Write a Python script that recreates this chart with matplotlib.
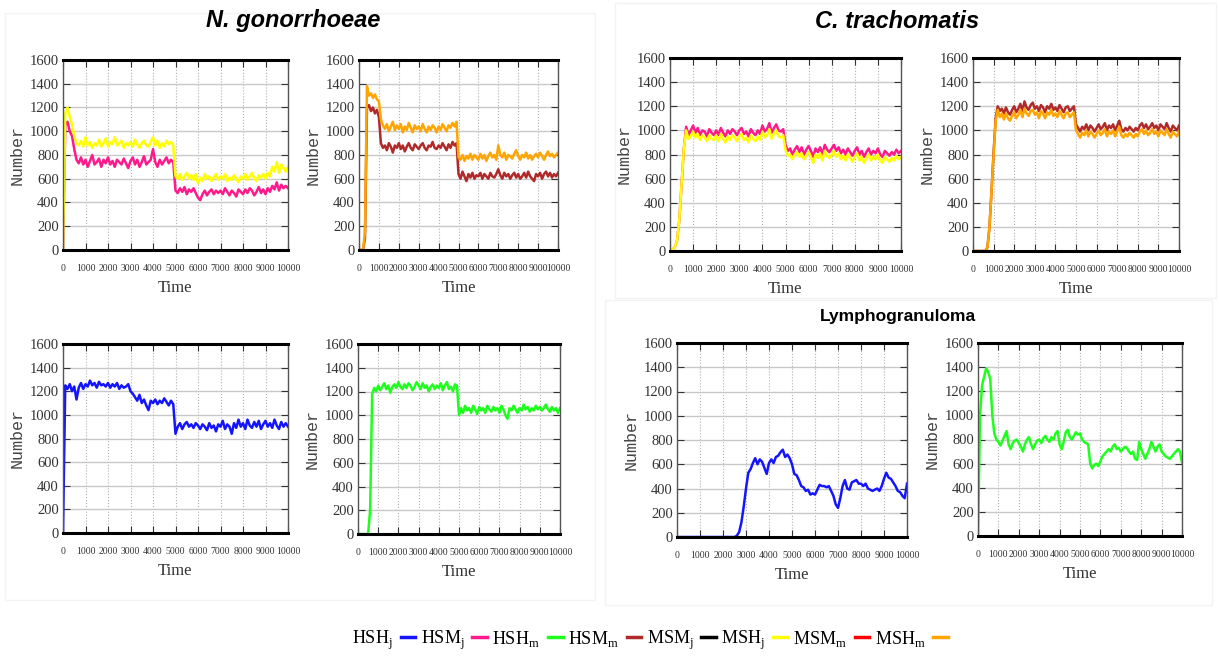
import numpy as np
import matplotlib
matplotlib.use("Agg")
import matplotlib.pyplot as plt
from matplotlib.lines import Line2D
from matplotlib.patches import Rectangle

plt.rcParams['font.family'] = ['Liberation Serif', 'DejaVu Serif']

# time axis of the simulations (one reading every 100 time units)
time = np.arange(0, 10001, 100)

# ---- N. gonorrhoeae ----
ng_hsm_j = [0, 1050, 1080, 1000, 960, 850, 760, 730, 780, 720,
            760, 700, 750, 800, 720, 740, 770, 700, 760, 730,
            780, 720, 750, 700, 760, 740, 720, 770, 730, 690,
            750, 780, 720, 760, 700, 740, 790, 720, 740, 760,
            850, 740, 700, 760, 720, 750, 780, 730, 760, 740,
            500, 480, 520, 490, 530, 470, 510, 490, 520, 480,
            440, 420, 470, 500, 460, 490, 510, 470, 500, 480,
            500, 470, 520, 490, 460, 500, 480, 450, 510, 490,
            470, 510, 480, 520, 500, 460, 490, 530, 480, 510,
            470, 520, 490, 540, 510, 570, 500, 550, 520, 540,
            520]
ng_msh_j = [0, 1150, 1200, 1120, 1060, 960, 900, 880, 920, 870,
            950, 880, 910, 860, 900, 880, 930, 870, 900, 940,
            870, 910, 890, 950, 880, 900, 920, 860, 900, 880,
            910, 870, 930, 890, 860, 900, 920, 880, 870, 910,
            950, 880, 920, 860, 900, 870, 920, 890, 910, 880,
            620, 600, 640, 590, 620, 650, 600, 630, 590, 640,
            560, 610, 580, 640, 600, 620, 580, 610, 640, 590,
            620, 600, 640, 580, 610, 590, 630, 600, 570, 620,
            600, 640, 590, 620, 650, 600, 580, 630, 610, 640,
            600, 650, 620, 700, 660, 740, 650, 720, 690, 660,
            700]
ng_hsm_m = [0, 0, 0, 100, 1200, 1220, 1170, 1200, 1150, 1180,
            1120, 900, 860, 880, 840, 900, 870, 820, 880, 860,
            900, 850, 880, 830, 870, 900, 860, 840, 890, 870,
            850, 880, 900, 860, 840, 880, 870, 910, 860, 850,
            880, 860, 900, 870, 840, 890, 860, 910, 880, 900,
            640, 600, 660, 620, 580, 640, 610, 650, 600, 630,
            620, 650, 600, 640, 620, 600, 650, 620, 610, 640,
            680, 630, 600, 650, 620, 640, 600, 630, 650, 610,
            640, 600, 620, 650, 610, 660, 620, 600, 580, 640,
            620, 650, 600, 640, 660, 620, 650, 610, 640, 620,
            650]
ng_msh_m = [0, 0, 0, 150, 1380, 1300, 1320, 1280, 1310, 1270,
            1250, 1100, 1050, 1020, 1060, 1000, 1040, 1080, 1010, 1050,
            1020, 1060, 990, 1040, 1010, 1070, 1030, 990, 1050, 1020,
            1040, 1000, 1060, 1020, 990, 1040, 1010, 1050, 1030, 990,
            1040, 1010, 1060, 1030, 1000, 1050, 1030, 1070, 1040, 1080,
            780, 760, 800, 750, 790, 770, 810, 760, 800, 780,
            760, 810, 770, 800, 750, 790, 820, 780, 800, 760,
            880, 800, 780, 820, 760, 800, 790, 770, 810, 840,
            790, 760, 800, 780, 820, 770, 800, 760, 790, 810,
            780, 820, 790, 760, 800, 830, 790, 810, 780, 800,
            820]
ng_hsh_j = [0, 1250, 1220, 1260, 1200, 1240, 1130, 1230, 1270, 1220,
            1260, 1240, 1290, 1250, 1270, 1230, 1280, 1250, 1260, 1240,
            1270, 1230, 1260, 1240, 1270, 1220, 1250, 1230, 1240, 1260,
            1200, 1180, 1150, 1120, 1170, 1100, 1130, 1080, 1040, 1120,
            1100, 1130, 1090, 1120, 1100, 1140, 1110, 1080, 1120, 1090,
            840, 900, 930, 880, 920, 940, 900, 920, 890, 930,
            910, 880, 920, 900, 870, 930, 890, 910, 860, 920,
            900, 950, 880, 920, 900, 840, 930, 890, 960, 900,
            930, 880, 960, 910, 890, 940, 900, 950, 880, 920,
            950, 900, 930, 890, 960, 910, 880, 940, 900, 930,
            900]
ng_hsh_m = [0, 0, 0, 0, 0, 0, 200, 1180, 1230, 1200,
            1250, 1210, 1240, 1270, 1220, 1250, 1190, 1240, 1260, 1230,
            1280, 1240, 1220, 1260, 1230, 1270, 1250, 1210, 1240, 1280,
            1250, 1220, 1270, 1230, 1250, 1200, 1240, 1260, 1220, 1250,
            1230, 1270, 1210, 1250, 1280, 1220, 1240, 1200, 1260, 1250,
            1000, 1060, 1020, 1080, 1040, 1060, 1020, 1080, 1050, 1010,
            1070, 1040, 1060, 1020, 1080, 1050, 1030, 1070, 1040, 1060,
            1020, 1080, 1050, 1000, 970, 1060, 1040, 1080, 1050, 1020,
            1060, 1040, 1090, 1050, 1070, 1030, 1060, 1040, 1080, 1050,
            1070, 1040, 1060, 1090, 1050, 1030, 1070, 1040, 1060, 1020,
            1060]

# ---- C. trachomatis ----
ct_hsm_j = [0, 10, 30, 80, 250, 550, 850, 1030, 960, 1000,
            1040, 980, 1020, 960, 1000, 990, 950, 1010, 980, 960,
            1000, 960, 1020, 980, 950, 1000, 970, 1010, 990, 960,
            1000, 1020, 970, 990, 950, 1010, 980, 960, 1000, 970,
            1040, 990, 1010, 1060, 980, 1020, 1050, 1000, 990, 1010,
            880, 830, 850, 800, 840, 870, 820, 860, 800, 840,
            870, 830, 780, 850, 820, 860, 800, 880, 840, 820,
            850, 880, 830, 860, 810, 840, 800, 850, 820, 790,
            830, 860, 800, 830, 780, 820, 850, 800, 830, 810,
            850, 800, 780, 830, 810, 790, 820, 800, 840, 810,
            830]
ct_msh_j = [0, 10, 30, 80, 250, 550, 850, 1000, 930, 950,
            990, 940, 970, 920, 960, 940, 910, 960, 930, 920,
            960, 910, 970, 930, 900, 950, 920, 960, 940, 910,
            950, 970, 920, 940, 900, 960, 930, 910, 950, 920,
            990, 940, 960, 1010, 930, 970, 1000, 950, 940, 960,
            840, 790, 800, 760, 800, 820, 780, 810, 760, 790,
            820, 780, 730, 800, 770, 810, 750, 830, 790, 770,
            800, 830, 780, 810, 760, 790, 750, 800, 770, 740,
            780, 810, 750, 780, 730, 770, 800, 750, 780, 760,
            800, 750, 730, 780, 760, 740, 770, 750, 790, 760,
            780]
ct_hsm_m = [0, 0, 0, 0, 0, 0, 0, 30, 200, 500,
            820, 1100, 1200, 1160, 1180, 1140, 1190, 1150, 1130, 1170,
            1200, 1150, 1180, 1220, 1160, 1240, 1190, 1170, 1210, 1230,
            1180, 1200, 1160, 1210, 1190, 1150, 1200, 1180, 1220, 1170,
            1190, 1160, 1210, 1180, 1150, 1190, 1200, 1160, 1180, 1200,
            1050, 1020, 990, 1030, 1010, 1050, 1000, 1040, 1020, 990,
            1020, 1050, 1010, 1030, 1060, 1000, 1040, 1020, 1050, 1000,
            1040, 1080, 1010, 990, 1020, 1000, 1030, 1010, 990, 1020,
            1000, 1040, 1060, 1020, 1050, 1010, 1030, 1060, 1020, 1040,
            1000, 1050, 1030, 1010, 1060, 1020, 990, 1040, 1020, 1000,
            1040]
ct_msh_m = [0, 0, 0, 0, 0, 0, 0, 30, 200, 500,
            800, 1080, 1170, 1110, 1140, 1090, 1140, 1100, 1080, 1120,
            1150, 1100, 1130, 1170, 1110, 1180, 1140, 1120, 1160, 1170,
            1130, 1150, 1100, 1160, 1140, 1100, 1150, 1130, 1170, 1120,
            1140, 1110, 1160, 1130, 1100, 1140, 1150, 1110, 1130, 1150,
            1000, 970, 940, 980, 960, 1000, 950, 990, 970, 940,
            970, 1000, 960, 980, 1010, 950, 990, 970, 1000, 950,
            990, 1030, 960, 940, 970, 950, 980, 960, 940, 970,
            950, 990, 1010, 970, 1000, 960, 980, 1010, 970, 990,
            950, 1000, 980, 960, 1010, 970, 940, 990, 970, 950,
            990]

# ---- Lymphogranuloma ----
lgv_hsh_j = [0, 0, 0, 0, 0, 0, 0, 0, 0, 0,
             0, 0, 0, 0, 0, 0, 0, 0, 0, 0,
             0, 0, 0, 0, 0, 0, 10, 40, 120, 250,
             400, 530, 560, 610, 650, 600, 640, 620, 570, 520,
             610, 640, 610, 660, 670, 700, 720, 660, 680, 650,
             600, 520, 510, 470, 420, 410, 380, 390, 350, 360,
             350, 390, 430, 420, 420, 410, 420, 380, 340, 270,
             240, 320, 420, 470, 400, 390, 450, 460, 470, 440,
             440, 420, 440, 400, 390, 380, 390, 400, 380, 420,
             480, 530, 490, 480, 450, 420, 380, 370, 340, 320,
             440]
lgv_hsh_m = [0, 1000, 1250, 1320, 1390, 1360, 1300, 1000, 850, 800,
             780, 750, 790, 830, 870, 760, 720, 770, 790, 800,
             770, 740, 700, 760, 800, 820, 760, 720, 760, 790,
             800, 770, 810, 830, 800, 780, 820, 800, 850, 870,
             760, 720, 780, 860, 880, 820, 800, 830, 860, 840,
             850, 800, 780, 770, 760, 600, 560, 590, 600, 580,
             620, 660, 680, 700, 720, 700, 740, 760, 720, 730,
             700, 720, 740, 730, 700, 680, 700, 640, 630, 780,
             720, 680, 640, 680, 720, 780, 740, 700, 740, 760,
             700, 680, 660, 650, 640, 660, 680, 700, 720, 700,
             610]

legend_names = ['HSH$_\\mathregular{j}$', 'HSM$_\\mathregular{j}$',
                'HSH$_\\mathregular{m}$', 'HSM$_\\mathregular{m}$',
                'MSM$_\\mathregular{j}$', 'MSH$_\\mathregular{j}$',
                'MSM$_\\mathregular{m}$', 'MSH$_\\mathregular{m}$']
legend_colors = ['#1414ff', '#ff1a8c', '#1eff1e', '#b02a2a',
                 '#000000', '#ffff00', '#ff0000', '#ffa500']
col = dict(zip(['HSH_j', 'HSM_j', 'HSH_m', 'HSM_m', 'MSM_j', 'MSH_j', 'MSM_m', 'MSH_m'],
               legend_colors))

W, H = 1219, 671
fig = plt.figure(figsize=(W / 100, H / 100), dpi=100)


def box(x0, y0, x1, y1):
    # pixel box (from top-left) -> figure fraction
    return [x0 / W, 1 - y1 / H, (x1 - x0) / W, (y1 - y0) / H]


def style(ax):
    ax.set_xlim(0, 10000)
    ax.set_ylim(0, 1600)
    ax.set_xticks(range(0, 10001, 1000))
    ax.set_yticks(range(0, 1601, 200))
    ax.tick_params(direction='in', top=True, right=True, length=5,
                   color='#333333', labelcolor='#333333')
    ax.tick_params(axis='x', labelsize=7, pad=10)
    ax.tick_params(axis='y', labelsize=10.5, pad=3)
    ax.yaxis.grid(True, color='#c8c8c8', lw=1)
    ax.xaxis.grid(True, color='#b0b0b0', lw=0.8, ls=':')
    ax.set_axisbelow(True)
    for s in ['top', 'bottom']:
        ax.spines[s].set_linewidth(2.2)
        ax.spines[s].set_color('black')
    for s in ['left', 'right']:
        ax.spines[s].set_linewidth(1)
        ax.spines[s].set_color('#555555')
    ax.set_xlabel('Time', fontsize=12, color='#333333', labelpad=5)
    ax.set_ylabel('Number', family='Liberation Mono', fontsize=12,
                  color='#444444', labelpad=4)


panels = [
    (box(63, 60, 288, 250), [(ng_hsm_j, 'HSM_j'), (ng_msh_j, 'MSH_j')]),
    (box(359, 60, 558, 250), [(ng_hsm_m, 'HSM_m'), (ng_msh_m, 'MSH_m')]),
    (box(670, 58, 901, 251), [(ct_hsm_j, 'HSM_j'), (ct_msh_j, 'MSH_j')]),
    (box(973, 58, 1179, 251), [(ct_hsm_m, 'HSM_m'), (ct_msh_m, 'MSH_m')]),
    (box(63, 344, 288, 533), [(ng_hsh_j, 'HSH_j')]),
    (box(358, 344, 560, 534), [(ng_hsh_m, 'HSH_m')]),
    (box(677, 343, 907, 537), [(lgv_hsh_j, 'HSH_j')]),
    (box(978, 343, 1182, 536), [(lgv_hsh_m, 'HSH_m')]),
]

for rect, series in panels:
    ax = fig.add_axes(rect)
    for vals, name in series:
        ax.plot(time, vals, color=col[name], lw=1.8)
    style(ax)

# faint frames around the groups
for x0, y0, x1, y1 in [(5, 13, 595, 600), (615, 3, 1216, 298), (605, 300, 1212, 605)]:
    fig.patches.append(Rectangle((x0 / W, 1 - y1 / H), (x1 - x0) / W, (y1 - y0) / H,
                                 transform=fig.transFigure, fill=False,
                                 ec='#f3f3f3', lw=1))

fig.text(293 / W, 1 - 20 / H, 'N. gonorrhoeae', family='Liberation Sans',
         weight='bold', style='italic', fontsize=17, ha='center', va='center')
fig.text(897 / W, 1 - 22 / H, 'C. trachomatis', family='Liberation Sans',
         weight='bold', style='italic', fontsize=17, ha='center', va='center')
fig.text(898 / W, 1 - 317 / H, 'Lymphogranuloma', family='Liberation Sans',
         weight='bold', fontsize=12.5, ha='center', va='center')

handles = [Line2D([], [], color=c, lw=2.5) for c in legend_colors]
fig.legend(handles, legend_names, ncol=8, loc='center',
           bbox_to_anchor=(650 / W, 1 - 640 / H), markerfirst=False,
           frameon=False, fontsize=13, handlelength=0.8, handletextpad=0.45,
           columnspacing=0.3)

fig.savefig('out.png', dpi=100)
